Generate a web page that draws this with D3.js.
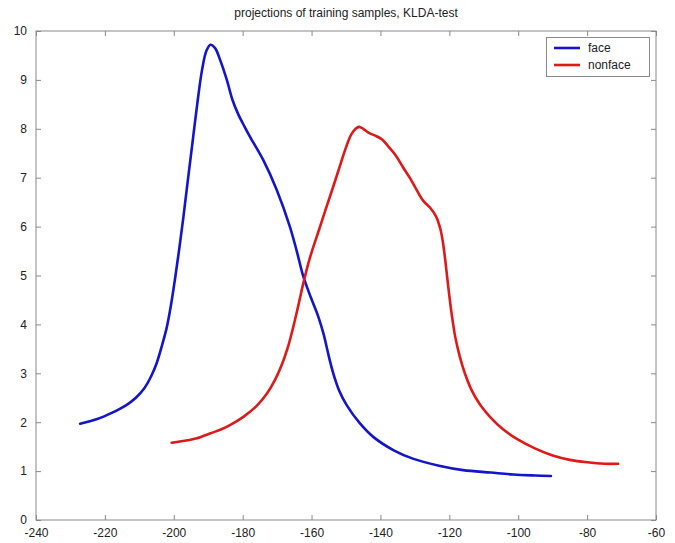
<!DOCTYPE html>
<html><head><meta charset="utf-8">
<script src="https://cdn.jsdelivr.net/npm/d3@7"></script>
<style>body{margin:0;background:#fff}svg{display:block}text{font-family:"Liberation Sans",Arial,sans-serif}</style>
</head><body>
<script>
const titleText = "projections of training samples, KLDA-test";
const seriesNames = ["face", "nonface"];
const seriesColors = ["#1414c8", "#dc1a1a"];
const xTicks = [-240,-220,-200,-180,-160,-140,-120,-100,-80,-60];
const yTicks = [0,1,2,3,4,5,6,7,8,9,10];

const faceX = [-227.2,-222,-218,-214,-211,-208.5,-206.5,-205,-203.5,-202,-200.8,-199.6,-198.4,-197.2,-196,-194.6,-193.2,-191.8,-190.5,-189.3,-188,-186.5,-184.6,-183,-181.3,-179.5,-177.9,-174.0,-170.1,-166.3,-164.3,-162.4,-160.2,-158,-156.5,-155,-153.7,-152,-149.8,-146,-142.1,-136,-130.4,-123,-116,-108,-101.4,-95,-90.5];
const faceY = [1.97,2.07,2.19,2.34,2.5,2.7,2.95,3.2,3.55,3.95,4.4,4.95,5.55,6.2,6.9,7.7,8.5,9.2,9.6,9.72,9.65,9.4,9.0,8.6,8.3,8.05,7.84,7.36,6.75,6.0,5.5,4.98,4.55,4.15,3.8,3.35,3.0,2.65,2.35,1.98,1.7,1.42,1.25,1.11,1.02,0.97,0.93,0.91,0.9];

const nonfaceX = [-200.6,-196,-193.3,-189.5,-186,-183.7,-179.8,-176,-173,-170.5,-168.5,-166.8,-165.3,-163.8,-162.4,-160.4,-158,-156,-153.7,-151.5,-150,-148.5,-147.2,-146.2,-145,-143.5,-141.5,-139.5,-137.5,-135.5,-133.5,-131.5,-129.5,-127.5,-125.5,-123.8,-122.6,-121.8,-121,-120.2,-119.3,-118.3,-117,-115.5,-113.5,-111,-108.2,-104.5,-100.4,-95,-90,-85,-80,-75,-71];
const nonfaceY = [1.58,1.63,1.67,1.77,1.86,1.94,2.11,2.33,2.58,2.88,3.2,3.55,3.95,4.4,4.84,5.38,5.9,6.33,6.82,7.3,7.62,7.88,8.0,8.04,8.0,7.92,7.86,7.78,7.62,7.45,7.22,7.0,6.75,6.52,6.38,6.2,5.95,5.65,5.2,4.7,4.2,3.75,3.35,3.0,2.65,2.35,2.11,1.86,1.66,1.46,1.32,1.23,1.18,1.15,1.15];

const W = 675, H = 543;
const L = 36, R = 656, T = 31, B = 520;
const svg = d3.select("body").append("svg").attr("width", W).attr("height", H);

const x = d3.scaleLinear().domain([-240, -60]).range([L, R]);
const y = d3.scaleLinear().domain([0, 10]).range([B, T]);

svg.append("rect").attr("x", L).attr("y", T).attr("width", R - L).attr("height", B - T)
  .attr("fill", "#fff").attr("stroke", "#8a8a8a").attr("stroke-width", 1);

const tickLen = 5;
const fmt = d => String(d);
const axisStyle = g => { g.select(".domain").remove(); g.selectAll("line").attr("stroke", "#8a8a8a");
  g.selectAll("text").attr("fill", "#222").style("font-size", "12px"); };

svg.append("g").attr("transform", `translate(0,${B})`)
  .call(d3.axisBottom(x).tickValues(xTicks).tickSizeInner(-tickLen).tickSizeOuter(0).tickPadding(8).tickFormat(fmt))
  .call(axisStyle);
svg.append("g").attr("transform", `translate(0,${T})`)
  .call(d3.axisTop(x).tickValues(xTicks).tickSizeInner(-tickLen).tickSizeOuter(0).tickFormat(""))
  .call(axisStyle);
svg.append("g").attr("transform", `translate(${L},0)`)
  .call(d3.axisLeft(y).tickValues(yTicks).tickSizeInner(-tickLen).tickSizeOuter(0).tickPadding(9).tickFormat(fmt))
  .call(axisStyle);
svg.append("g").attr("transform", `translate(${R},0)`)
  .call(d3.axisRight(y).tickValues(yTicks).tickSizeInner(-tickLen).tickSizeOuter(0).tickFormat(""))
  .call(axisStyle);

svg.append("text").attr("x", (L + R) / 2).attr("y", 17).attr("text-anchor", "middle")
  .style("font-size", "12px").attr("fill", "#222").text(titleText);

const line = d3.line().x(d => x(d[0])).y(d => y(d[1])).curve(d3.curveCatmullRom.alpha(0.5));
const series = [d3.zip(faceX, faceY), d3.zip(nonfaceX, nonfaceY)];
series.forEach((s, i) => {
  svg.append("path").datum(s).attr("d", line).attr("fill", "none")
    .attr("stroke", seriesColors[i]).attr("stroke-width", 2.6).attr("stroke-linejoin", "round").attr("stroke-linecap", "round");
});

const lg = svg.append("g");
lg.append("rect").attr("x", 546.5).attr("y", 37.5).attr("width", 103).attr("height", 39)
  .attr("fill", "#fff").attr("stroke", "#8a8a8a");
seriesNames.forEach((n, i) => {
  const yy = 48 + i * 17;
  lg.append("line").attr("x1", 554).attr("x2", 580).attr("y1", yy).attr("y2", yy)
    .attr("stroke", seriesColors[i]).attr("stroke-width", 2.6);
  lg.append("text").attr("x", 588).attr("y", yy + 4).style("font-size", "12px").attr("fill", "#222").text(n);
});
</script>
</body></html>
